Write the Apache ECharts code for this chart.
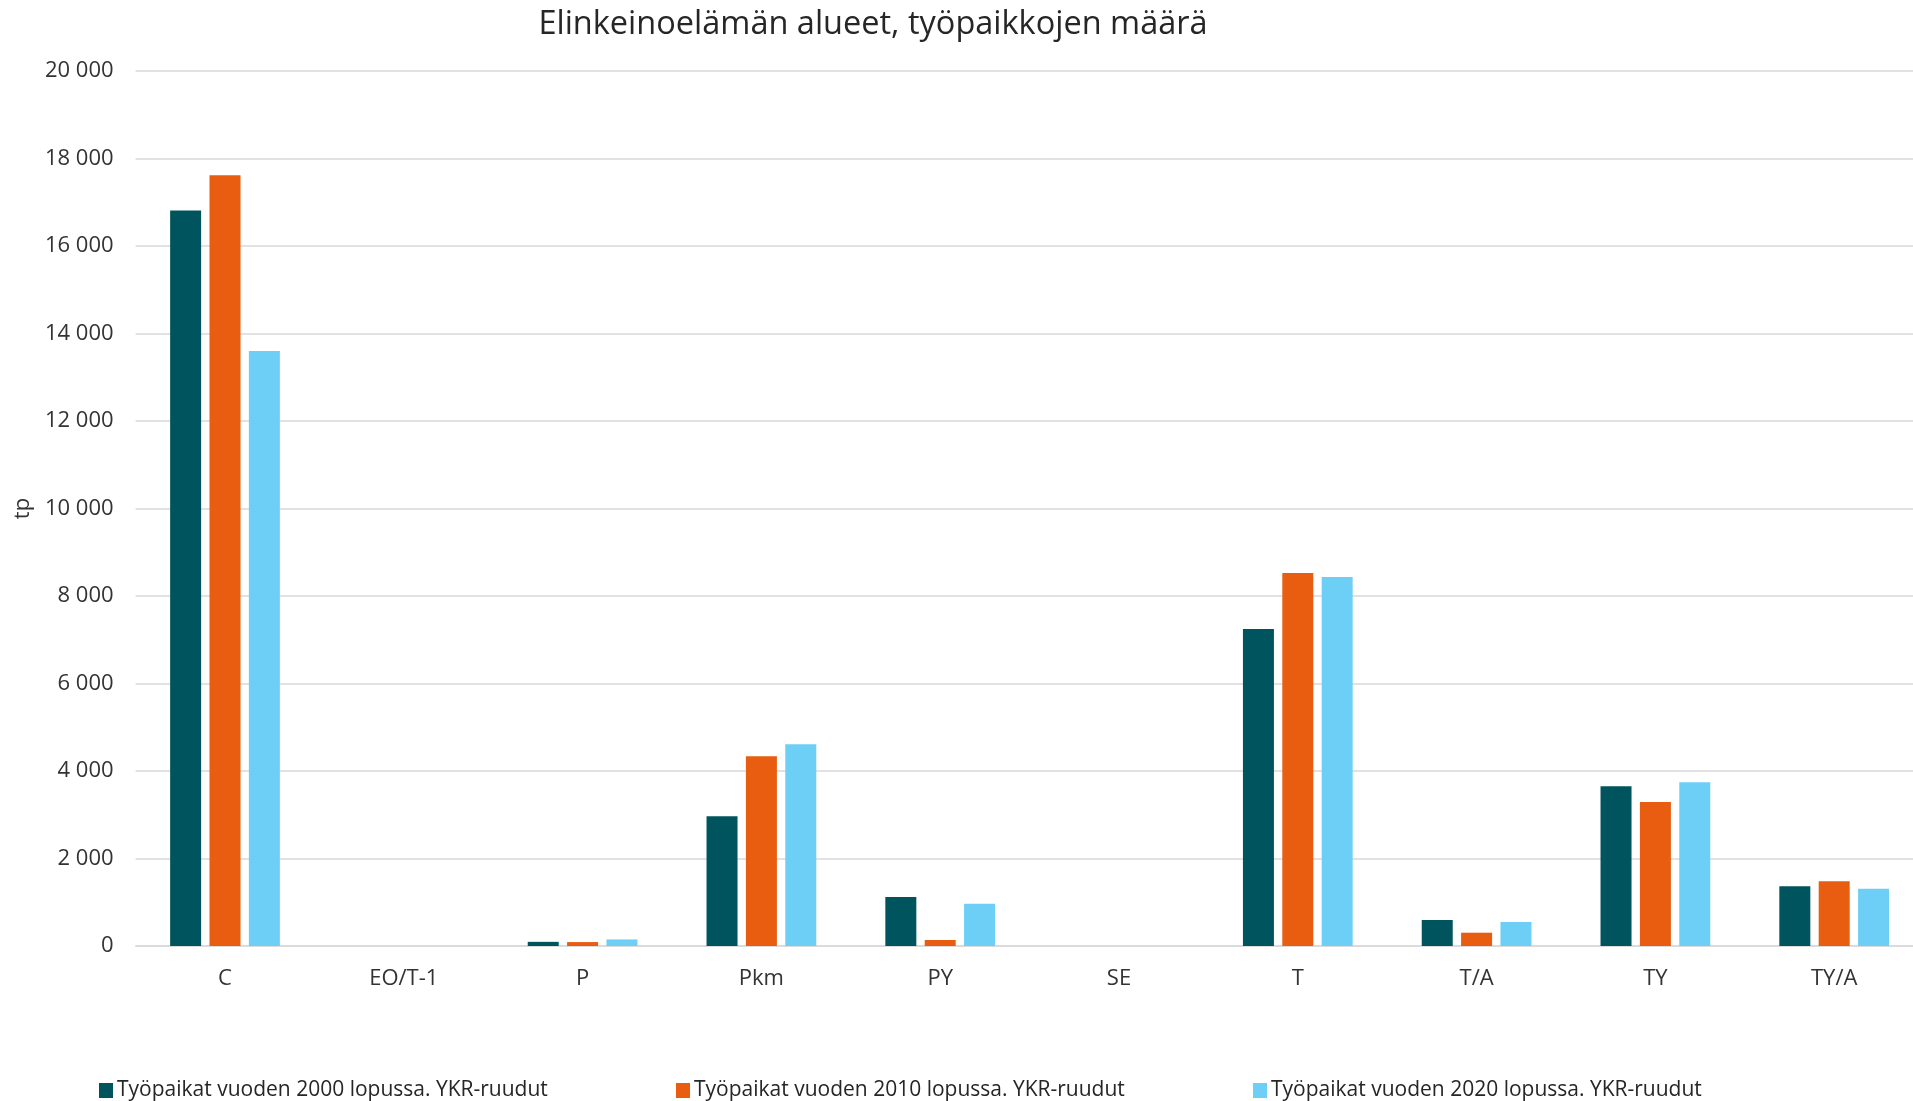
<!DOCTYPE html>
<html>
<head>
<meta charset="utf-8">
<script src="https://cdn.jsdelivr.net/npm/echarts@6/dist/echarts.min.js"></script>
<style>
html,body{margin:0;padding:0;background:#fff;}
#chart{width:1913px;height:1101px;}
</style>
</head>
<body>
<div id="chart"></div>
<script>
const categories = ['C', 'EO/T-1', 'P', 'Pkm', 'PY', 'SE', 'T', 'T/A', 'TY', 'TY/A'];
const seriesNames = [
  'Työpaikat vuoden 2000 lopussa. YKR-ruudut',
  'Työpaikat vuoden 2010 lopussa. YKR-ruudut',
  'Työpaikat vuoden 2020 lopussa. YKR-ruudut'
];
const values2000 = [16810, 0, 95, 2965, 1120, 0, 7245, 594, 3650, 1365];
const values2010 = [17620, 0, 90, 4336, 137, 0, 8528, 304, 3291, 1478];
const values2020 = [13600, 0, 150, 4610, 967, 0, 8432, 549, 3741, 1310];
const colors = ['#00545E', '#E85D0F', '#6DCFF6'];
const titleText = 'Elinkeinoelämän alueet, työpaikkojen määrä';
const yAxisName = 'tp';

const FONT = '"Open Sans", "Noto Sans", sans-serif';
const chart = echarts.init(document.getElementById('chart'), null, {renderer: 'canvas'});

function fmt(v) {
  return String(v).replace(/\B(?=(\d{3})+(?!\d))/g, ' ');
}

const legendLefts = [94, 671, 1248];
const legends = seriesNames.map((n, i) => ({
  data: [n],
  left: legendLefts[i],
  top: 1075,
  orient: 'horizontal',
  icon: 'rect',
  itemWidth: 14,
  itemHeight: 15,
  itemGap: 0,
  textStyle: {fontFamily: FONT, fontSize: 21, color: '#262626', padding: [0, 0, 0, -1]},
  selectedMode: false
}));

const seriesVals = [values2000, values2010, values2020];

chart.setOption({
  animation: false,
  color: colors,
  title: {
    text: titleText,
    left: 868,
    textAlign: 'center',
    top: 3,
    textStyle: {fontFamily: FONT, fontSize: 32.5, fontWeight: 'normal', color: '#262626'}
  },
  legend: legends,
  grid: {left: 135.6, width: 1788, top: 71, bottom: 155, containLabel: false, outerBoundsMode: 'none'},
  xAxis: {
    type: 'category',
    data: categories,
    axisTick: {show: false},
    axisLine: {show: true, lineStyle: {color: '#D9D9D9', width: 1.5}},
    axisLabel: {fontFamily: FONT, fontSize: 22, color: '#333', margin: 22}
  },
  yAxis: {
    type: 'value',
    min: 0,
    max: 20000,
    interval: 2000,
    name: yAxisName,
    nameLocation: 'middle',
    nameGap: 99,
    nameTextStyle: {fontFamily: FONT, fontSize: 22, color: '#333'},
    axisLine: {show: false},
    axisTick: {show: false},
    splitLine: {lineStyle: {color: '#D9D9D9', width: 1.5}},
    axisLabel: {fontFamily: FONT, fontSize: 22, color: '#333', margin: 22, formatter: fmt}
  },
  series: seriesNames.map((n, i) => ({
    name: n,
    type: 'bar',
    data: seriesVals[i],
    barWidth: 31,
    barGap: '27%',
    itemStyle: {color: colors[i]}
  }))
});
</script>
</body>
</html>
